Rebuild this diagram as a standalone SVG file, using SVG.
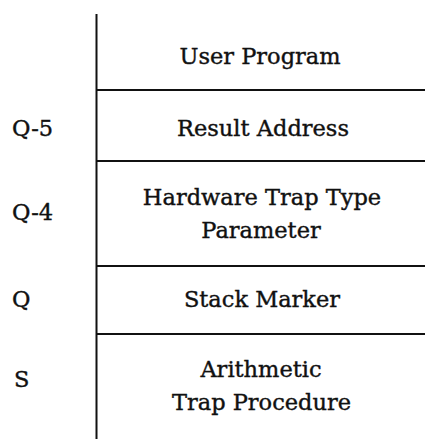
<svg xmlns="http://www.w3.org/2000/svg" width="425" height="439" viewBox="0 0 425 439">
<style>
.t{font-family:"DejaVu Serif","Liberation Serif",serif;font-size:22.5px;fill:#111;stroke:#111;stroke-width:0.4;text-anchor:middle}
.l{font-family:"DejaVu Serif","Liberation Serif",serif;font-size:22.5px;fill:#111;stroke:#111;stroke-width:0.4}
.ln{stroke:#111;stroke-width:2;fill:none}
</style>
<rect width="425" height="439" fill="#fff"/>
<g id="connectors">
<line class="ln" x1="96.5" y1="14" x2="96.5" y2="439"/>
<line class="ln" x1="96.5" y1="90" x2="425" y2="90"/>
<line class="ln" x1="96.5" y1="161" x2="425" y2="161"/>
<line class="ln" x1="96.5" y1="266" x2="425" y2="266"/>
<line class="ln" x1="96.5" y1="334" x2="425" y2="334"/>
</g>
<g id="user-program"><text class="t" x="260" y="64">User Program</text></g>
<g id="result-address"><text class="t" x="263" y="136">Result Address</text><text class="l" x="12" y="136">Q-5</text></g>
<g id="hardware-trap"><text class="t" x="262" y="205">Hardware Trap Type</text><text class="t" x="261" y="238">Parameter</text><text class="l" x="12" y="220">Q-4</text></g>
<g id="stack-marker"><text class="t" x="262" y="307">Stack Marker</text><text class="l" x="12" y="307">Q</text></g>
<g id="arith-trap"><text class="t" x="261" y="377">Arithmetic</text><text class="t" x="261.5" y="410">Trap Procedure</text><text class="l" x="14" y="387">S</text></g>
</svg>
